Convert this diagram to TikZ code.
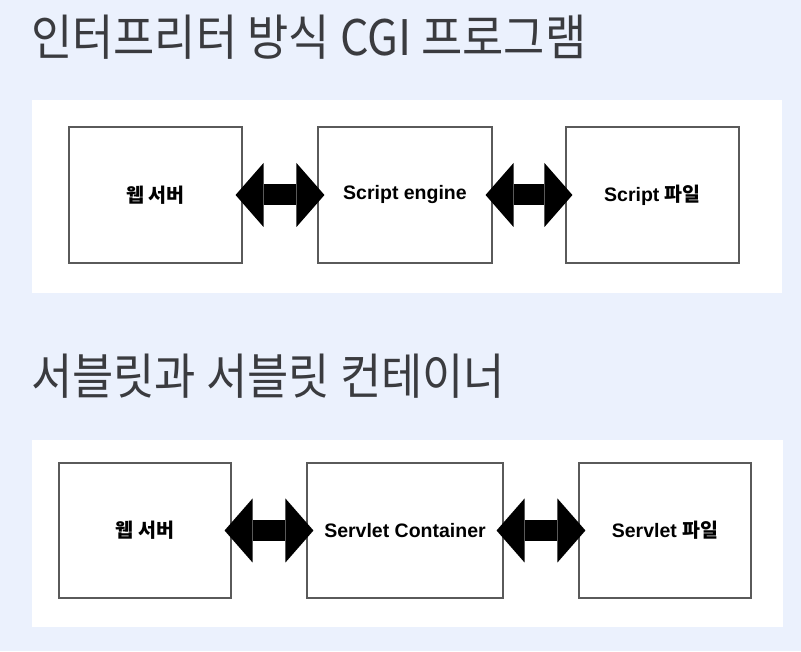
\documentclass[tikz,border=0pt]{standalone}
\usepackage{fontspec}
\setmainfont{Liberation Sans}
\newfontfamily\kr{Noto Sans CJK KR}
\usepackage{tikz}
\usetikzlibrary{arrows.meta,positioning}
\definecolor{bgblue}{HTML}{EBF1FD}
\definecolor{ttlgray}{HTML}{3A3B3F}
\definecolor{boxline}{HTML}{5A5A5A}
\newcommand{\kor}[1]{{\kr #1}}

\begin{document}
\begin{tikzpicture}[
  x=1pt, y=1pt,
  ttl/.style={anchor=west, inner sep=0pt, text=ttlgray,
              font=\kr\fontsize{49}{55}\selectfont},
  panel/.style={fill=white, draw=none},
  blk/.style={rectangle, draw=boxline, line width=1.1pt, fill=white,
              align=center, inner sep=2pt,
              font=\bfseries\fontsize{19.5}{22}\selectfont},
  fat/.style={line width=21pt,
              {Triangle[length=28pt,width=64pt,line width=0pt]}-{Triangle[length=28pt,width=64pt,line width=0pt]},
              shorten <=-7pt, shorten >=-7pt},
]
  % background
  \fill[bgblue] (0,0) rectangle (801,651);
  \useasboundingbox (0,0) rectangle (801,651);
  % CGI
  \node[ttl] (cgi-title) at (31,614) {\scalebox{0.915}[1]{인터프리터 방식 CGI 프로그램}};
  \fill[panel] (32,358) rectangle (782,551);
  \node[blk, minimum width=173pt, minimum height=136pt] (cgi-web)    at (155.5,456) {\kor{웹 서버}};
  \node[blk, minimum width=174pt, minimum height=136pt] (cgi-engine) at (405,456)   {Script engine};
  \node[blk, minimum width=173pt, minimum height=136pt] (cgi-file)   at (652.5,456) {Script \kor{파일}};
  \draw[fat] (cgi-web.east) -- (cgi-engine.west);
  \draw[fat] (cgi-engine.east) -- (cgi-file.west);
  % SERVLET
  \node[ttl] (sv-title) at (31,275) {\scalebox{0.915}[1]{서블릿과 서블릿 컨테이너}};
  \fill[panel] (32,24) rectangle (783,211);
  \node[blk, minimum width=172pt, minimum height=135pt] (sv-web)  at (145,120.5) {\kor{웹 서버}};
  \node[blk, minimum width=196pt, minimum height=135pt] (sv-cont) at (405,120.5) {Servlet Container};
  \node[blk, minimum width=172pt, minimum height=135pt] (sv-file) at (665,120.5) {Servlet \kor{파일}};
  \draw[fat] (sv-web.east) -- (sv-cont.west);
  \draw[fat] (sv-cont.east) -- (sv-file.west);
\end{tikzpicture}
\end{document}
